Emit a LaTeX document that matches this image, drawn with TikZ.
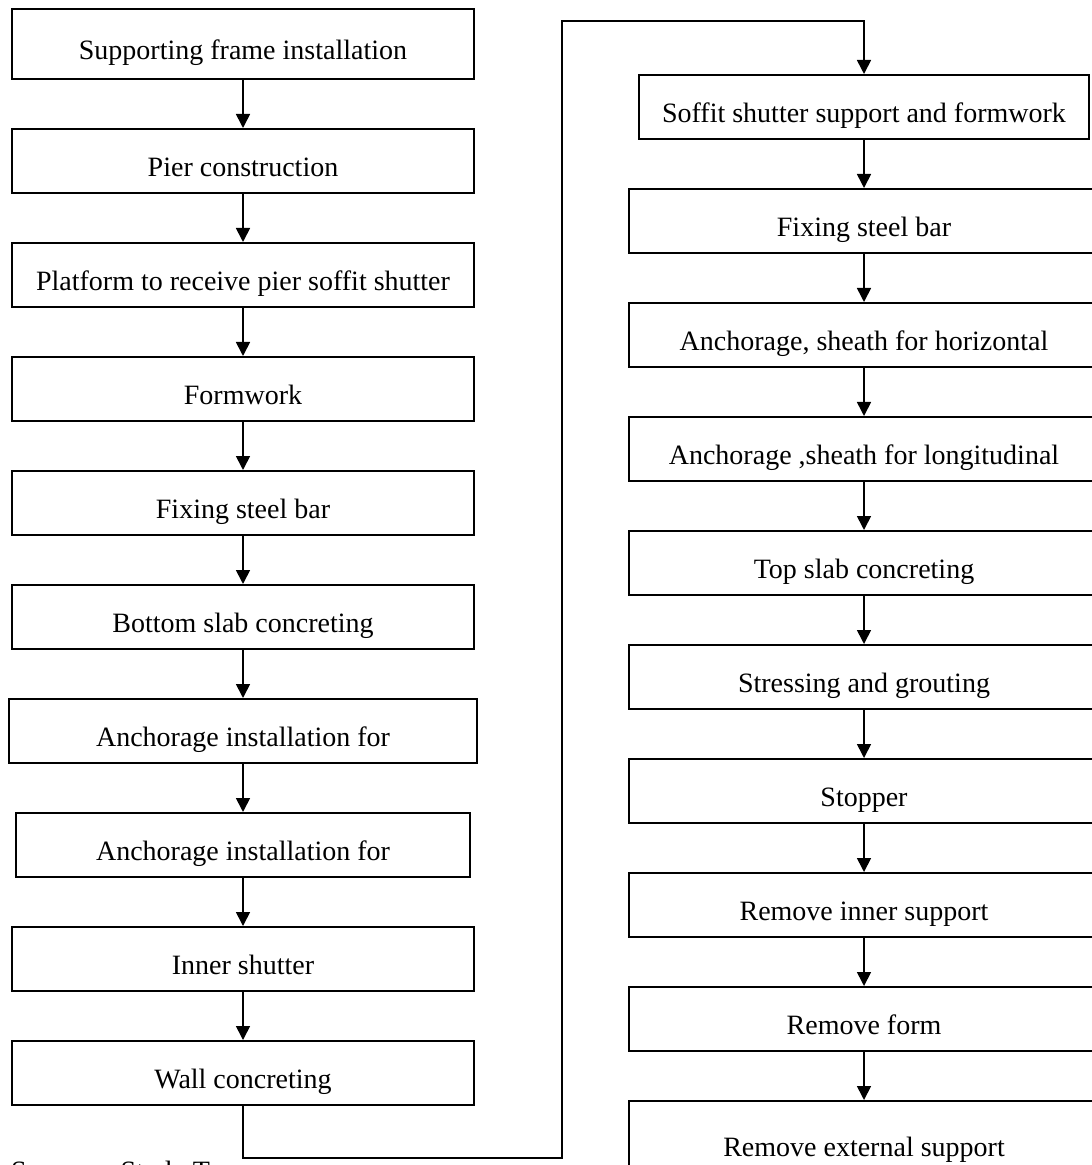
\documentclass[tikz,border=0pt]{standalone}
\usepackage{fontspec}
\setmainfont{Liberation Serif}
\usepackage{tikz}
\usetikzlibrary{arrows.meta,positioning}
\tikzset{
  stepbox/.style={
    rectangle,
    draw=black,
    line width=1.2pt,
    fill=white,
    align=center,
    minimum width=231pt,
    minimum height=32pt,
    text height=15pt,
    text depth=0pt,
    inner sep=4pt,
    font=\fontsize{14pt}{16pt}\selectfont
  },
  steparrow/.style={
    -{Triangle[length=7pt,width=7pt]},
    line width=0.85pt,
    draw=black
  }
}

\begin{document}
\begin{tikzpicture}[x=0.5pt, y=-0.5pt, node distance=23.8pt]
\useasboundingbox (0,0) rectangle (1091,1165);

% left column
\node[stepbox, anchor=north, minimum height=35pt] (frame) at (243,8) {Supporting frame installation};
\node[stepbox, below=of frame] (pier) {Pier construction};
\node[stepbox, below=of pier] (platform) {Platform to receive pier soffit shutter};
\node[stepbox, below=of platform] (formwork) {Formwork};
\node[stepbox, below=of formwork] (steelA) {Fixing steel bar};
\node[stepbox, below=of steelA] (bottom) {Bottom slab concreting};
\node[stepbox, below=of bottom, minimum width=234pt] (anchorA) {Anchorage installation for};
\node[stepbox, below=of anchorA, minimum width=227pt] (anchorB) {Anchorage installation for};
\node[stepbox, below=of anchorB] (inner) {Inner shutter};
\node[stepbox, below=of inner] (wall) {Wall concreting};

% right column
\node[stepbox, anchor=north, minimum width=225pt] (soffit) at (864,74) {Soffit shutter support and formwork};
\node[stepbox, below=of soffit, minimum width=235pt] (steelB) {Fixing steel bar};
\node[stepbox, below=of steelB, minimum width=235pt] (horiz) {Anchorage, sheath for horizontal};
\node[stepbox, below=of horiz, minimum width=235pt] (longi) {Anchorage ,sheath for longitudinal};
\node[stepbox, below=of longi, minimum width=235pt] (topslab) {Top slab concreting};
\node[stepbox, below=of topslab, minimum width=235pt] (stress) {Stressing and grouting};
\node[stepbox, below=of stress, minimum width=235pt] (stopper) {Stopper};
\node[stepbox, below=of stopper, minimum width=235pt] (rminner) {Remove inner support};
\node[stepbox, below=of rminner, minimum width=235pt] (rmform) {Remove form};
\node[stepbox, below=of rmform, minimum width=235pt, minimum height=40pt] (rmext) {Remove external support};

\node[anchor=base west, font=\fontsize{14pt}{16pt}\selectfont] (source) at (4,1180) {Source:\hspace{12pt}Study Team};

% turning points of the link between the columns
\coordinate (turnlow) at (562,1158);
\coordinate (turnhigh) at (562,21);

\draw[steparrow] (frame) -- (pier);
\draw[steparrow] (pier) -- (platform);
\draw[steparrow] (platform) -- (formwork);
\draw[steparrow] (formwork) -- (steelA);
\draw[steparrow] (steelA) -- (bottom);
\draw[steparrow] (bottom) -- (anchorA);
\draw[steparrow] (anchorA) -- (anchorB);
\draw[steparrow] (anchorB) -- (inner);
\draw[steparrow] (inner) -- (wall);
\draw[steparrow] (wall.south) |- (turnlow) -- (turnhigh) -| (soffit.north);
\draw[steparrow] (soffit) -- (steelB);
\draw[steparrow] (steelB) -- (horiz);
\draw[steparrow] (horiz) -- (longi);
\draw[steparrow] (longi) -- (topslab);
\draw[steparrow] (topslab) -- (stress);
\draw[steparrow] (stress) -- (stopper);
\draw[steparrow] (stopper) -- (rminner);
\draw[steparrow] (rminner) -- (rmform);
\draw[steparrow] (rmform) -- (rmext);
\end{tikzpicture}
\end{document}
